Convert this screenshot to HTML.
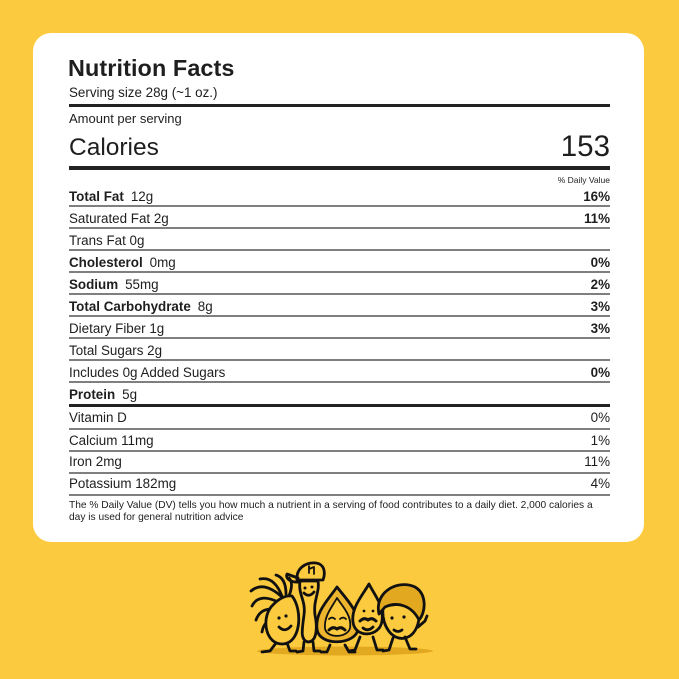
<!DOCTYPE html>
<html><head><meta charset="utf-8"><style>
html,body{margin:0;padding:0}
body{width:679px;height:679px;background:#FCCA3E;position:relative;overflow:hidden;font-family:"Liberation Sans",Arial,sans-serif;color:#1e1e1e}
.card{position:absolute;left:33px;top:33px;width:611px;height:509px;background:#fff;border-radius:18px}
.t{position:absolute;line-height:1;white-space:nowrap}
.r{position:absolute;right:69px;text-align:right;line-height:1;white-space:nowrap}
.ln{position:absolute;left:69px;width:541px;background:#7f7f7f;height:1.6px}
.thk{position:absolute;left:69px;width:541px;background:#222}
b{font-weight:bold}
.v{margin-left:7px}
</style></head><body>
<div class="card"></div>

<div class="t" style="left:68px;top:57.3px;font-size:23.4px;font-weight:bold;letter-spacing:0.1px">Nutrition Facts</div>
<div class="t" style="left:69px;top:85.5px;font-size:13.4px">Serving size 28g (~1 oz.)</div>
<div class="thk" style="top:103.5px;height:3.5px"></div>
<div class="t" style="left:69px;top:111.7px;font-size:13px">Amount per serving</div>
<div class="t" style="left:69px;top:136px;font-size:24.5px">Calories</div>
<div class="r" style="top:131.5px;font-size:29.5px">153</div>
<div class="thk" style="top:165.8px;height:4px"></div>
<div class="r" style="top:176px;font-size:8.5px">% Daily Value</div>

<!-- rows -->
<div class="t" style="left:69px;top:190.3px;font-size:13.4px"><b>Total Fat</b><span class="v">12g</span></div>
<div class="r" style="top:190.3px;font-size:13.4px"><b>16%</b></div>
<div class="ln" style="top:205px"></div>

<div class="t" style="left:69px;top:212.3px;font-size:13.4px">Saturated Fat 2g</div>
<div class="r" style="top:212.3px;font-size:13.4px"><b>11%</b></div>
<div class="ln" style="top:227px"></div>

<div class="t" style="left:69px;top:234.3px;font-size:13.4px">Trans Fat 0g</div>
<div class="ln" style="top:249px"></div>

<div class="t" style="left:69px;top:256.3px;font-size:13.4px"><b>Cholesterol</b><span class="v">0mg</span></div>
<div class="r" style="top:256.3px;font-size:13.4px"><b>0%</b></div>
<div class="ln" style="top:271px"></div>

<div class="t" style="left:69px;top:278.3px;font-size:13.4px"><b>Sodium</b><span class="v">55mg</span></div>
<div class="r" style="top:278.3px;font-size:13.4px"><b>2%</b></div>
<div class="ln" style="top:293px"></div>

<div class="t" style="left:69px;top:300.3px;font-size:13.4px"><b>Total Carbohydrate</b><span class="v">8g</span></div>
<div class="r" style="top:300.3px;font-size:13.4px"><b>3%</b></div>
<div class="ln" style="top:315px"></div>

<div class="t" style="left:69px;top:322.3px;font-size:13.4px">Dietary Fiber 1g</div>
<div class="r" style="top:322.3px;font-size:13.4px"><b>3%</b></div>
<div class="ln" style="top:337px"></div>

<div class="t" style="left:69px;top:344.3px;font-size:13.4px">Total Sugars 2g</div>
<div class="ln" style="top:359px"></div>

<div class="t" style="left:69px;top:366.3px;font-size:13.4px">Includes 0g Added Sugars</div>
<div class="r" style="top:366.3px;font-size:13.4px"><b>0%</b></div>
<div class="ln" style="top:381px"></div>

<div class="t" style="left:69px;top:388.3px;font-size:13.4px"><b>Protein</b><span class="v">5g</span></div>
<div class="thk" style="top:403.8px;height:3.6px"></div>

<div class="t" style="left:69px;top:411.3px;font-size:13.4px">Vitamin D</div>
<div class="r" style="top:411.3px;font-size:13.4px">0%</div>
<div class="ln" style="top:428px"></div>

<div class="t" style="left:69px;top:433.6px;font-size:13.4px">Calcium 11mg</div>
<div class="r" style="top:433.6px;font-size:13.4px">1%</div>
<div class="ln" style="top:450px"></div>

<div class="t" style="left:69px;top:455.4px;font-size:13.4px">Iron 2mg</div>
<div class="r" style="top:455.4px;font-size:13.4px">11%</div>
<div class="ln" style="top:472px"></div>

<div class="t" style="left:69px;top:477.4px;font-size:13.4px">Potassium 182mg</div>
<div class="r" style="top:477.4px;font-size:13.4px">4%</div>
<div class="ln" style="top:494px"></div>

<div class="t" style="left:69px;top:500.5px;font-size:10.2px">The % Daily Value (DV) tells you how much a nutrient in a serving of food contributes to a daily diet. 2,000 calories a</div>
<div class="t" style="left:69px;top:513.2px;font-size:10.2px">day is used for general nutrition advice</div>

<svg style="position:absolute;left:0;top:0" width="679" height="679" viewBox="0 0 679 679">
<ellipse cx="345" cy="651" rx="88" ry="4.5" fill="#E2A920"/>
<g fill="none" stroke="#111" stroke-width="2.8" stroke-linecap="round" stroke-linejoin="round">
<!-- fig1 feathers -->
<path d="M283 598 Q264 580 251 591" />
<path d="M280 603 Q259 592 252 606" />
<path d="M278 610 Q261 606 256 620" />
<path d="M276 618 Q264 620 262 632" />
<path d="M282 596 Q274 576 260 579" />
<path d="M286 594 Q286 578 276 575" />
<path d="M289 596 Q294 583 289 578" />
<!-- fig1 body -->
<path d="M292 596 C 303 610, 301 643, 283 644 C 266 645, 261 620, 271 607 C 278 599, 285 595, 292 596 Z" fill="#FCCA3E"/>
<path d="M279 627 Q285 633 291 626"/>
<path d="M276 643 L270 651 L262 652"/>
<path d="M287 643 L290 651 L296 651"/>
<!-- fig2 cap + body -->
<path d="M300 581 C 298 595, 306 600, 304 615 C 302 630, 300 640, 308 642 C 316 642, 318 630, 315 615 C 313 600, 320 592, 318 581 Z" fill="#FCCA3E"/>
<path d="M297 580 C 296 568, 306 562, 316 563 C 324 564, 326 572, 323 580 Z" fill="#FCCA3E"/>
<path d="M298 578 L 287 574 C 285 578, 290 583, 300 582"/>
<path d="M309 566 L309 573 M309 569 L314 567 L314 574" stroke-width="1.8"/>
<path d="M304 593 Q309 598 314 592"/>
<path d="M304 642 L303 651 L297 652"/>
<path d="M313 642 L314 651 L320 651"/>
<!-- fig3 -->
<path d="M337 587 C 347 600, 360 612, 358 629 C 356 645, 319 647, 317 629 C 315 612, 328 600, 337 587 Z" fill="#EDB52E"/>
<path d="M337 598 C 343 607, 352 616, 350 628 C 348 638, 326 639, 325 628 C 324 616, 332 607, 337 598 Z" fill="#FCCA3E" stroke-width="1.8"/>
<path d="M329 630 Q333 626 337 629 Q341 626 345 630" stroke-width="3"/>
<path d="M330 645 L327 652 L321 652"/>
<path d="M345 645 L349 652 L355 652"/>
<!-- fig4 -->
<path d="M369 584 C 375 596, 384 605, 382 621 C 380 637, 355 639, 353 622 C 351 608, 362 596, 369 584 Z" fill="#FCCA3E"/>
<path d="M360 621 Q364 617 368 620 Q372 617 376 621" stroke-width="3"/>
<path d="M363 628 Q368 632 373 627"/>
<path d="M360 637 L355 650 L349 651"/>
<path d="M373 637 L377 650 L383 650"/>
<!-- fig5 -->
<path d="M383 606 C 381 627, 393 641, 405 638 C 418 635, 422 616, 418 602 Z" fill="#FCCA3E"/>
<path d="M379 614 C 374 592, 398 579, 415 587 C 427 594, 426 612, 419 620 C 412 606, 398 601, 385 607 Z" fill="#E2A920"/>
<path d="M394 630 Q398 633 402 630"/>
<path d="M418 627 L425 621 L427 616"/>
<path d="M393 638 L389 650 L383 651"/>
<path d="M405 637 L410 649 L416 649"/>
</g>
<g fill="#111">
<circle cx="279" cy="618" r="1.6"/><circle cx="286" cy="616" r="1.6"/>
<circle cx="305" cy="588" r="1.5"/><circle cx="312" cy="587" r="1.5"/>
<circle cx="364" cy="611" r="1.4"/><circle cx="373" cy="611" r="1.4"/>
<circle cx="392" cy="618" r="1.6"/><circle cx="404" cy="617" r="1.6"/>
</g>
<g fill="none" stroke="#111" stroke-width="1.8" stroke-linecap="round">
<path d="M329 619 Q332 616 335 619"/><path d="M340 619 Q343 616 346 619"/>
</g>
</svg>
</body></html>
